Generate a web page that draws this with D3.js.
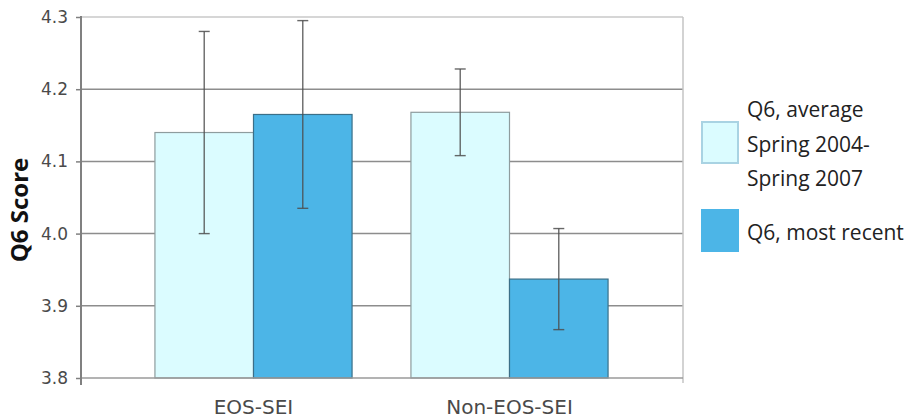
<!DOCTYPE html>
<html>
<head>
<meta charset="utf-8">
<script src="https://cdn.jsdelivr.net/npm/d3@7"></script>
<style>
  body { margin: 0; background: #fff; }
</style>
</head>
<body>
<div id="chart"></div>
<script>
var categories = ["EOS-SEI", "Non-EOS-SEI"];
var seriesNames = ["Q6, average Spring 2004-Spring 2007", "Q6, most recent"];
var legendLines = [["Q6, average", "Spring 2004-", "Spring 2007"], ["Q6, most recent"]];
var avgValues = [4.14, 4.168];
var avgErrors = [0.14, 0.06];
var recentValues = [4.165, 3.937];
var recentErrors = [0.13, 0.07];
var yTicks = [3.8, 3.9, 4.0, 4.1, 4.2, 4.3];

var fills = ["#dbfcff", "#4cb5e7"];
var strokes = ["#8e9c9e", "#3b6f88"];
var legendStrokes = ["#a9d3e3", "#4cb5e7"];

var W = 908, H = 419;
var plot = {left: 81, right: 683, top: 17, bottom: 378};

var svg = d3.select("#chart").append("svg")
    .attr("width", W)
    .attr("height", H);

var y = d3.scaleLinear()
    .domain([3.8, 4.3])
    .range([plot.bottom, plot.top]);

var x0 = d3.scaleBand()
    .domain(categories)
    .range([125.5, 637.5])
    .paddingInner(0.23)
    .paddingOuter(0.115);

var x1 = d3.scaleBand()
    .domain(seriesNames)
    .range([0, x0.bandwidth()]);

var rows = [];
categories.forEach(function(c, i) {
  rows.push({cat: c, series: seriesNames[0], idx: 0, value: avgValues[i], err: avgErrors[i]});
  rows.push({cat: c, series: seriesNames[1], idx: 1, value: recentValues[i], err: recentErrors[i]});
});

// gridlines
svg.append("g").selectAll("line")
    .data(yTicks.slice(1))
  .enter().append("line")
    .attr("x1", plot.left)
    .attr("x2", plot.right)
    .attr("y1", function(d) { return y(d); })
    .attr("y2", function(d) { return y(d); })
    .attr("stroke", function(d) { return d == 4.3 ? "#c9c9c9" : "#8d8d8d"; })
    .attr("stroke-width", 1.5);

// right border
svg.append("line")
    .attr("x1", plot.right).attr("x2", plot.right)
    .attr("y1", plot.top).attr("y2", plot.bottom + 5)
    .attr("stroke", "#c4c4c4")
    .attr("stroke-width", 1.5);

// bars
svg.append("g").selectAll("rect")
    .data(rows)
  .enter().append("rect")
    .attr("x", function(d) { return x0(d.cat) + x1(d.series); })
    .attr("y", function(d) { return y(d.value); })
    .attr("width", x1.bandwidth())
    .attr("height", function(d) { return y(3.8) - y(d.value); })
    .attr("fill", function(d) { return fills[d.idx]; })
    .attr("stroke", function(d) { return strokes[d.idx]; })
    .attr("stroke-width", 1.2);

// error bars
var eb = svg.append("g").selectAll("g")
    .data(rows)
  .enter().append("g")
    .attr("stroke", "#4d4d4d")
    .attr("stroke-opacity", 0.85)
    .attr("stroke-width", 1.4);

eb.append("line")
    .attr("x1", function(d) { return x0(d.cat) + x1(d.series) + x1.bandwidth() / 2; })
    .attr("x2", function(d) { return x0(d.cat) + x1(d.series) + x1.bandwidth() / 2; })
    .attr("y1", function(d) { return y(d.value + d.err); })
    .attr("y2", function(d) { return y(d.value - d.err); });

[1, -1].forEach(function(s) {
  eb.append("line")
      .attr("x1", function(d) { return x0(d.cat) + x1(d.series) + x1.bandwidth() / 2 - 5.5; })
      .attr("x2", function(d) { return x0(d.cat) + x1(d.series) + x1.bandwidth() / 2 + 5.5; })
      .attr("y1", function(d) { return y(d.value + s * d.err); })
      .attr("y2", function(d) { return y(d.value + s * d.err); });
});

// bottom axis line
svg.append("line")
    .attr("x1", plot.left).attr("x2", plot.right)
    .attr("y1", plot.bottom).attr("y2", plot.bottom)
    .attr("stroke", "#9a9a9a")
    .attr("stroke-width", 1.5);

// y axis
var yAxis = svg.append("g")
    .attr("transform", "translate(" + plot.left + ",0)")
    .call(d3.axisLeft(y).tickValues(yTicks).tickFormat(d3.format(".1f")).tickSize(5).tickSizeOuter(0));

yAxis.select(".domain").remove();
yAxis.append("line")
    .attr("x1", 0).attr("x2", 0)
    .attr("y1", plot.top - 1).attr("y2", plot.bottom + 7)
    .attr("stroke", "#808080")
    .attr("stroke-width", 2);
yAxis.selectAll(".tick line").attr("stroke", "#808080").attr("stroke-width", 1.5);
yAxis.selectAll(".tick text")
    .attr("x", -13)
    .attr("fill", "#4a4a4a")
    .style("font-family", "DejaVu Sans, Verdana, sans-serif")
    .style("font-size", "17px");

// x axis labels
var xAxis = svg.append("g")
    .attr("transform", "translate(0," + plot.bottom + ")")
    .call(d3.axisBottom(x0).tickSize(0));
xAxis.select(".domain").remove();
xAxis.selectAll(".tick text")
    .attr("y", 22)
    .attr("dy", "0.71em")
    .attr("fill", "#4a4a4a")
    .style("font-family", "DejaVu Sans, Verdana, sans-serif")
    .style("font-size", "20px");

// y title
svg.append("text")
    .attr("transform", "translate(28,210) rotate(-90)")
    .attr("text-anchor", "middle")
    .attr("fill", "#111")
    .style("font-family", "Open Sans, sans-serif")
    .style("font-weight", "bold")
    .style("font-size", "24px")
    .text("Q6 Score");

// legend
var legendTop = [122, 210];
var legendBase = [[117, 152, 186], [240]];
var lg = svg.append("g").selectAll("g")
    .data(seriesNames)
  .enter().append("g");

lg.append("rect")
    .attr("x", 702)
    .attr("y", function(d, i) { return legendTop[i]; })
    .attr("width", 36)
    .attr("height", 41)
    .attr("fill", function(d, i) { return fills[i]; })
    .attr("stroke", function(d, i) { return legendStrokes[i]; })
    .attr("stroke-width", 2);

lg.each(function(d, i) {
  var g = d3.select(this);
  legendLines[i].forEach(function(t, j) {
    g.append("text")
        .attr("x", 747)
        .attr("y", legendBase[i][j])
        .attr("fill", "#222")
        .style("font-family", "Open Sans, sans-serif")
        .style("font-size", "21px")
        .text(t);
  });
});
</script>
</body>
</html>
